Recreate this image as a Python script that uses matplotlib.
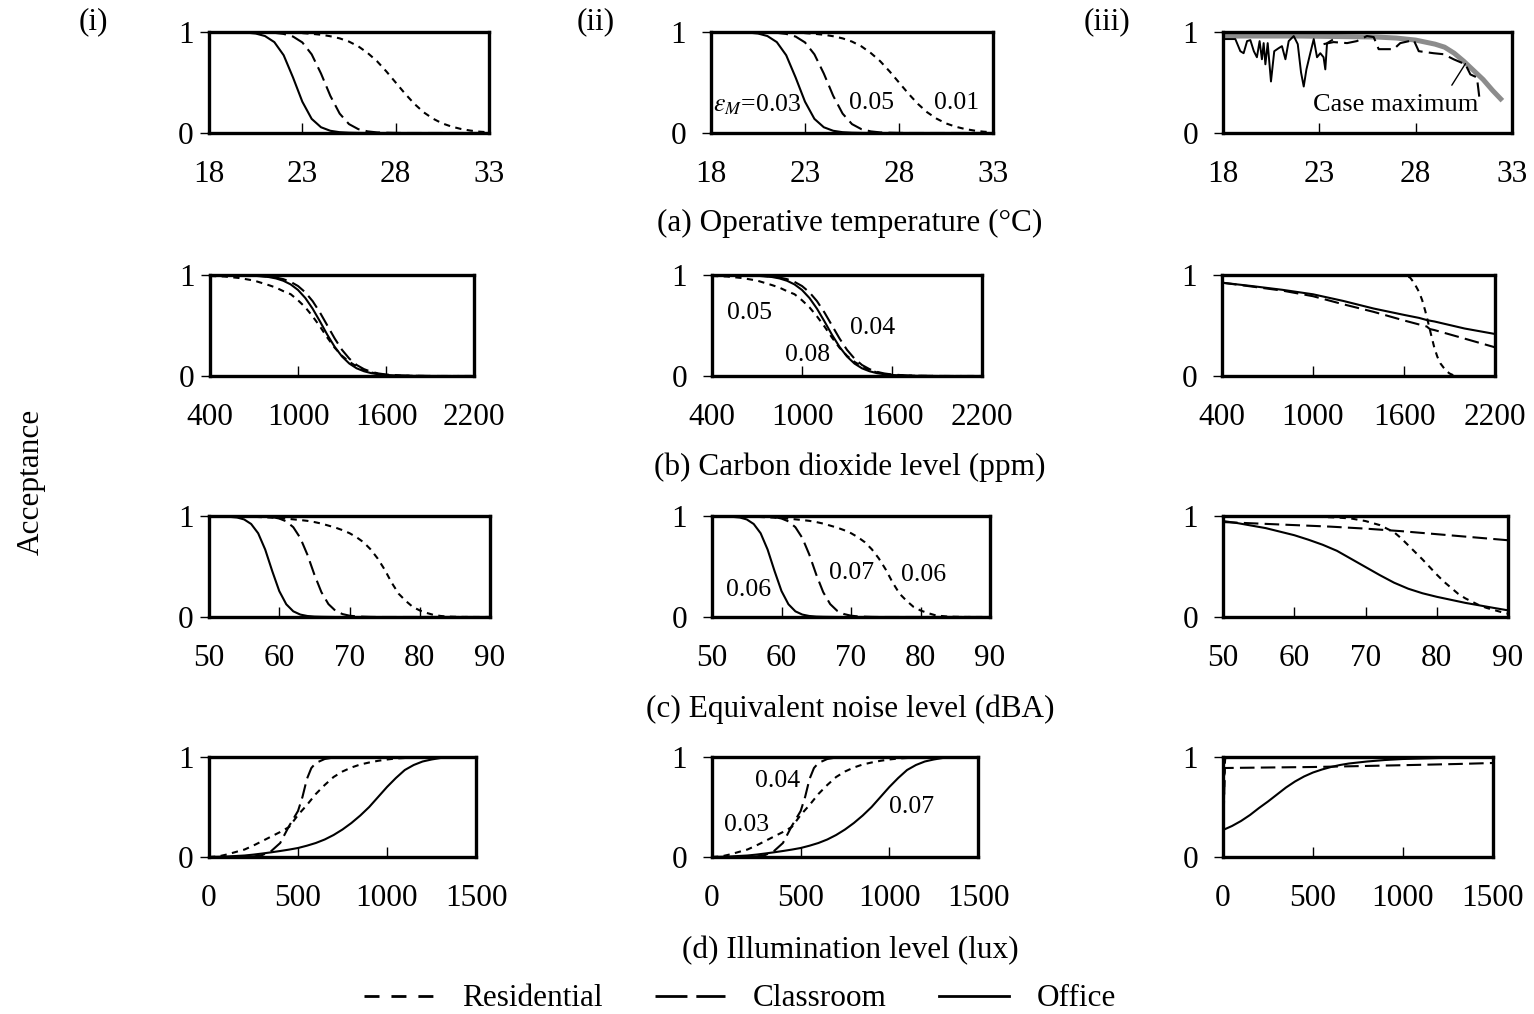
import matplotlib
matplotlib.use("Agg")
import matplotlib.pyplot as plt
from matplotlib.lines import Line2D

plt.rcParams['font.family'] = ['Liberation Serif', 'DejaVu Serif']
plt.rcParams['mathtext.fontset'] = 'stix'

# ---------------- data ----------------
# (a) operative temperature, columns (i) and (ii)
temp_x = [18, 19, 20, 20.5, 21, 21.5, 22, 22.5, 23, 23.5, 24, 24.5, 25, 25.5, 26, 26.5,
          27, 27.5, 28, 28.5, 29, 29.5, 30, 30.5, 31, 31.5, 32, 32.5, 33]
temp_office = [1.0, 0.999, 0.994, 0.985, 0.96, 0.90, 0.77, 0.55, 0.31, 0.14, 0.057, 0.022, 0.008,
               0.003, 0.001, 0, 0, 0, 0, 0, 0, 0, 0, 0, 0, 0, 0, 0, 0]
temp_classroom = [1.0, 1.0, 0.999, 0.998, 0.997, 0.992, 0.981, 0.955, 0.897, 0.779, 0.589, 0.368,
                  0.192, 0.088, 0.038, 0.016, 0.006, 0.003, 0.001, 0, 0, 0, 0, 0, 0, 0, 0, 0, 0]
temp_residential = [1.0, 1.0, 0.999, 0.998, 0.998, 0.997, 0.996, 0.993, 0.989, 0.982, 0.973, 0.958,
                    0.937, 0.905, 0.858, 0.792, 0.711, 0.61, 0.5, 0.39, 0.289, 0.205, 0.142, 0.095,
                    0.063, 0.04, 0.024, 0.013, 0.007]
# (a) column (iii): case data
temp3_office_x = [18.0, 18.64, 18.9, 19.07, 19.25, 19.42, 19.6, 19.76, 19.9, 20.02, 20.11, 20.2,
                  20.32, 20.49, 20.66, 20.89, 21.06, 21.24, 21.41, 21.67, 21.88, 22.05, 22.19,
                  22.33, 22.53, 22.71, 22.88, 23.05, 23.22, 23.31, 23.4, 23.66]
temp3_office = [0.93, 0.93, 0.81, 0.79, 0.91, 0.92, 0.81, 0.75, 0.91, 0.73, 0.89, 0.68, 0.89, 0.51,
                0.81, 0.84, 0.86, 0.73, 0.91, 0.96, 0.88, 0.60, 0.46, 0.63, 0.79, 0.93, 0.75, 0.79,
                0.75, 0.63, 0.89, 0.92]
temp3_class_x = [23.22, 23.74, 24.44, 24.95, 25.47, 25.82, 26.08, 26.86, 27.2, 27.9, 28.16, 28.93,
                 29.45, 29.97, 30.58, 30.84, 31.18, 31.3]
temp3_class = [0.88, 0.90, 0.89, 0.91, 0.96, 0.95, 0.83, 0.83, 0.89, 0.92, 0.81, 0.79, 0.78, 0.73,
               0.68, 0.58, 0.55, 0.36]
temp3_max_x = [18, 20, 22, 24, 26, 27, 28, 29, 29.5, 30, 30.5, 31, 31.5, 32, 32.5]
temp3_max = [0.96, 0.96, 0.96, 0.955, 0.95, 0.94, 0.92, 0.88, 0.85, 0.79, 0.71, 0.62, 0.53, 0.42, 0.32]

# (b) carbon dioxide
co2_x = [400, 500, 600, 700, 800, 850, 900, 950, 1000, 1050, 1100, 1150, 1200, 1250, 1300, 1350,
         1400, 1450, 1500, 1550, 1600, 1700, 1800, 1900, 2000, 2100, 2200]
co2_office = [1.0, 0.999, 0.9975, 0.993, 0.980, 0.966, 0.943, 0.907, 0.852, 0.772, 0.666, 0.54,
              0.408, 0.289, 0.193, 0.123, 0.076, 0.047, 0.028, 0.017, 0.010, 0.0035, 0.001, 0, 0, 0, 0]
co2_classroom = [1.0, 0.9994, 0.998, 0.995, 0.985, 0.975, 0.959, 0.932, 0.891, 0.828, 0.741, 0.628,
                 0.5, 0.372, 0.259, 0.172, 0.109, 0.068, 0.041, 0.025, 0.015, 0.005, 0.002, 0.001,
                 0, 0, 0]
co2_residential = [0.99, 0.985, 0.97, 0.945, 0.90, 0.875, 0.84, 0.81, 0.75, 0.68, 0.59, 0.49, 0.38,
                   0.28, 0.20, 0.14, 0.095, 0.06, 0.035, 0.02, 0.01, 0.003, 0.001, 0, 0, 0, 0]
co23_x = [400, 600, 800, 1000, 1200, 1400, 1600, 1700, 1750, 1770, 1800, 2000, 2200]
co23_office = [0.924, 0.89, 0.853, 0.809, 0.743, 0.668, 0.605, 0.575, 0.554, 0.548, 0.54, 0.47, 0.416]
co23_classroom = [0.924, 0.885, 0.845, 0.79, 0.71, 0.635, 0.55, 0.51, 0.49, 0.465, 0.455, 0.37, 0.284]
co23_res_x = [400, 1000, 1500, 1600, 1640, 1660, 1680, 1700, 1720, 1740, 1760, 1780, 1800, 1820,
              1840, 1860, 1880, 1900, 1925]
co23_residential = [1.0, 1.0, 1.0, 0.998, 0.975, 0.935, 0.885, 0.83, 0.75, 0.645, 0.525, 0.40, 0.28,
                    0.19, 0.125, 0.085, 0.05, 0.025, 0.008]

# (c) equivalent noise level
noise_x = [50, 52, 54, 55, 56, 57, 58, 59, 60, 61, 62, 63, 64, 65, 66, 67, 68, 69, 70, 71, 72, 73,
           74, 75, 76, 77, 78, 79, 80, 81, 82, 83, 84, 85, 86, 88, 90]
noise_office = [1.0, 0.9975, 0.985, 0.966, 0.921, 0.829, 0.668, 0.455, 0.257, 0.126, 0.056, 0.024,
                0.010, 0.004, 0.002, 0.001, 0, 0, 0, 0, 0, 0, 0, 0, 0, 0, 0, 0, 0, 0, 0, 0, 0, 0,
                0, 0, 0]
noise_classroom = [1.0, 1.0, 0.9998, 0.9995, 0.999, 0.998, 0.995, 0.989, 0.975, 0.947, 0.889, 0.782,
                   0.618, 0.42, 0.246, 0.128, 0.062, 0.029, 0.013, 0.006, 0.003, 0.001, 0, 0, 0, 0,
                   0, 0, 0, 0, 0, 0, 0, 0, 0, 0, 0]
noise_residential = [1.0, 0.998, 0.996, 0.995, 0.993, 0.99, 0.987, 0.983, 0.978, 0.973, 0.967, 0.96,
                     0.952, 0.94, 0.925, 0.905, 0.885, 0.86, 0.83, 0.79, 0.74, 0.67, 0.58, 0.47,
                     0.34, 0.23, 0.16, 0.10, 0.065, 0.04, 0.02, 0.01, 0.004, 0.002, 0.001, 0, 0]
noise3_x = [50, 52, 54, 56, 58, 60, 62, 64, 66, 68, 70, 72, 74, 76, 78, 80, 82, 84, 86, 88, 90]
noise3_office = [0.95, 0.93, 0.905, 0.88, 0.845, 0.81, 0.765, 0.715, 0.655, 0.575, 0.495, 0.415,
                 0.34, 0.28, 0.235, 0.20, 0.17, 0.14, 0.115, 0.09, 0.066]
noise3_class_x = [50, 55, 60, 65, 70, 75, 80, 85, 90]
noise3_classroom = [0.94, 0.925, 0.91, 0.895, 0.875, 0.85, 0.82, 0.79, 0.76]
noise3_res_x = [50, 55, 60, 62, 64, 66, 68, 70, 72, 73, 74, 75, 76, 77, 78, 79, 80, 81, 82, 83, 84,
                85, 86, 87, 88, 89, 90]
noise3_residential = [1.0, 1.0, 1.0, 0.998, 0.99, 0.985, 0.975, 0.95, 0.91, 0.875, 0.84, 0.78, 0.71,
                      0.64, 0.57, 0.495, 0.42, 0.35, 0.29, 0.23, 0.185, 0.15, 0.115, 0.09, 0.07,
                      0.05, 0.033]

# (d) illumination level
lux_x = [0, 50, 100, 150, 200, 250, 300, 350, 400, 450, 500, 550, 600, 650, 700, 750, 800, 850, 900,
         950, 1000, 1050, 1100, 1150, 1200, 1250, 1300, 1350, 1400, 1450, 1500]
lux_office = [0.0, 0.002, 0.005, 0.01, 0.015, 0.024, 0.035, 0.047, 0.06, 0.074, 0.09, 0.113, 0.14,
              0.175, 0.22, 0.275, 0.34, 0.415, 0.50, 0.60, 0.70, 0.79, 0.87, 0.92, 0.955, 0.975,
              0.99, 0.996, 0.999, 1.0, 1.0]
lux_class_x = [0, 100, 200, 250, 300, 350, 400, 450, 500, 525, 550, 575, 600, 650, 700, 750, 1000,
               1500]
lux_classroom = [0, 0, 0.002, 0.005, 0.02, 0.06, 0.14, 0.31, 0.46, 0.60, 0.78, 0.89, 0.94, 0.98,
                 0.995, 1.0, 1.0, 1.0]
lux_residential = [0.0, 0.005, 0.025, 0.05, 0.075, 0.115, 0.16, 0.205, 0.25, 0.30, 0.42, 0.52, 0.63,
                   0.72, 0.80, 0.855, 0.895, 0.925, 0.945, 0.962, 0.975, 0.985, 0.99, 0.995, 1.0,
                   1.0, 1.0, 1.0, 1.0, 1.0, 1.0]
lux3_x = [0, 50, 100, 150, 200, 250, 300, 350, 400, 450, 500, 550, 600, 650, 700, 800, 900, 1000,
          1100, 1200, 1300, 1400, 1500]
lux3_office = [0.27, 0.31, 0.36, 0.42, 0.49, 0.555, 0.625, 0.695, 0.755, 0.805, 0.845, 0.875, 0.90,
               0.92, 0.935, 0.955, 0.97, 0.98, 0.985, 0.99, 0.992, 0.995, 0.995]
lux3_class_x = [0, 5, 10, 100, 300, 500, 700, 1000, 1300, 1500]
lux3_classroom = [0.0, 0.5, 0.89, 0.892, 0.896, 0.90, 0.907, 0.918, 0.93, 0.94]
lux3_res_x = [0, 3, 6, 9, 12, 20, 100, 1500]
lux3_residential = [0.0, 0.3, 0.65, 0.9, 0.98, 1.0, 1.0, 1.0]

temp_ticks = [18, 23, 28, 33]
co2_ticks = [400, 1000, 1600, 2200]
noise_ticks = [50, 60, 70, 80, 90]
lux_ticks = [0, 500, 1000, 1500]

row_titles = ["(a) Operative temperature (\u00b0C)", "(b) Carbon dioxide level (ppm)",
              "(c) Equivalent noise level (dBA)", "(d) Illumination level (lux)"]
col_labels = ["(i)", "(ii)", "(iii)"]
legend_labels = ["Residential", "Classroom", "Office"]

labels_temp = [r"$\varepsilon_M$=0.03", "0.05", "0.01"]
labels_co2 = ["0.05", "0.04", "0.08"]
labels_noise = ["0.06", "0.07", "0.06"]
labels_lux = ["0.04", "0.03", "0.07"]

# ---------------- figure ----------------
W, H = 1534, 1014
fig = plt.figure(figsize=(W / 100, H / 100), dpi=100)

FS = 22.5
RES = dict(color='black', lw=1.5, dashes=(3, 2.6))
CLS = dict(color='black', lw=1.5, dashes=(7, 3))
OFF = dict(color='black', lw=1.5)

rows_tb = [(32, 133), (275, 376), (516, 617), (757, 857)]
cols_lr = [[(209, 489), (711, 993), (1223, 1512)],
           [(210, 474), (712, 982), (1222, 1495)],
           [(209, 490), (712, 990), (1223, 1508)],
           [(209, 476), (712, 978), (1223, 1493)]]
ypads = [4.5, 11.5, 11.5]


def make_ax(l, t, r, b, ypad):
    ax = fig.add_axes([l / W, 1 - b / H, (r - l) / W, (b - t) / H])
    for s in ax.spines.values():
        s.set_linewidth(2.4)
    ax.set_ylim(0, 1)
    ax.set_yticks([0, 1])
    ax.set_yticklabels(["0", "1"], fontsize=FS)
    ax.tick_params(axis='y', direction='out', length=6.5, width=1, pad=ypad)
    ax.tick_params(axis='x', direction='in', length=7, width=1, pad=19.5, labelsize=FS)
    return ax


ticks_all = [temp_ticks, co2_ticks, noise_ticks, lux_ticks]
axes = [[None] * 3 for _ in range(4)]
for i in range(4):
    t, b = rows_tb[i]
    for j in range(3):
        l, r = cols_lr[i][j]
        ax = make_ax(l, t, r, b, ypads[j])
        tk = ticks_all[i]
        ax.set_xlim(tk[0], tk[-1])
        ax.set_xticks(tk)
        ax.set_xticklabels([str(v) for v in tk])
        axes[i][j] = ax

# Row (a)
for j in range(2):
    ax = axes[0][j]
    ax.plot(temp_x, temp_residential, **RES)
    ax.plot(temp_x, temp_classroom, **CLS)
    ax.plot(temp_x, temp_office, **OFF)
ax = axes[0][2]
ax.plot(temp3_max_x, temp3_max, color='#8c8c8c', lw=3.6, solid_capstyle='butt')
ax.plot(temp3_class_x, temp3_class, **CLS)
ax.plot(temp3_office_x, temp3_office, color='black', lw=1.4)
ax.annotate('', xy=(30.66, 0.71), xytext=(29.8, 0.45),
            arrowprops=dict(arrowstyle='-', lw=1, color='black'))
ax.text(26.94, 0.28, "Case maximum", fontsize=19, ha='center', va='center')

# Row (b)
for j in range(2):
    ax = axes[1][j]
    ax.plot(co2_x, co2_residential, **RES)
    ax.plot(co2_x, co2_classroom, **CLS)
    ax.plot(co2_x, co2_office, **OFF)
ax = axes[1][2]
ax.plot(co23_res_x, co23_residential, **RES)
ax.plot(co23_x, co23_classroom, **CLS)
ax.plot(co23_x, co23_office, **OFF)

# Row (c)
for j in range(2):
    ax = axes[2][j]
    ax.plot(noise_x, noise_residential, **RES)
    ax.plot(noise_x, noise_classroom, **CLS)
    ax.plot(noise_x, noise_office, **OFF)
ax = axes[2][2]
ax.plot(noise3_res_x, noise3_residential, **RES)
ax.plot(noise3_class_x, noise3_classroom, **CLS)
ax.plot(noise3_x, noise3_office, **OFF)

# Row (d)
for j in range(2):
    ax = axes[3][j]
    ax.plot(lux_x, lux_residential, **RES)
    ax.plot(lux_class_x, lux_classroom, **CLS)
    ax.plot(lux_x, lux_office, **OFF)
ax = axes[3][2]
ax.plot(lux3_res_x, lux3_residential, **RES)
ax.plot(lux3_class_x, lux3_classroom, **CLS)
ax.plot(lux3_x, lux3_office, **OFF)

# epsilon labels in column (ii)
LFS = 18.5
for (x, y), s in zip([(20.45, 0.28), (26.56, 0.30), (31.08, 0.30)], labels_temp):
    axes[0][1].text(x, y, s, fontsize=LFS, ha='center', va='center')
for (x, y), s in zip([(653, 0.62), (1473, 0.475), (1040, 0.21)], labels_co2):
    axes[1][1].text(x, y, s, fontsize=LFS, ha='center', va='center')
for (x, y), s in zip([(55.2, 0.267), (70.1, 0.436), (80.4, 0.416)], labels_noise):
    axes[2][1].text(x, y, s, fontsize=LFS, ha='center', va='center')
for (x, y), s in zip([(370, 0.76), (194, 0.32), (1128, 0.50)], labels_lux):
    axes[3][1].text(x, y, s, fontsize=LFS, ha='center', va='center')

# row titles, column labels, y label
for k, (s, yc) in enumerate(zip(row_titles, [223, 467, 709, 951])):
    fig.text(850 / W, 1 - yc / H, s, fontsize=FS, ha='center', va='center')
for s, xc in zip(col_labels, [93, 596, 1107]):
    fig.text(xc / W, 1 - 22 / H, s, fontsize=FS, ha='center', va='center')
fig.text(31 / W, 1 - 482 / H, "Acceptance", fontsize=FS, rotation=90, ha='center', va='center')

# legend
handles = [Line2D([], [], color='black', lw=2, dashes=(5.4, 4.3)),
           Line2D([], [], color='black', lw=2, dashes=(11.5, 3.2)),
           Line2D([], [], color='black', lw=2)]
fig.legend(handles, legend_labels, loc='center', bbox_to_anchor=(740 / W, 1 - 999 / H),
           ncol=3, frameon=False, fontsize=FS, handlelength=2.24, handletextpad=0.9,
           columnspacing=1.66, borderpad=0, borderaxespad=0)

fig.savefig("out.png", dpi=100)
